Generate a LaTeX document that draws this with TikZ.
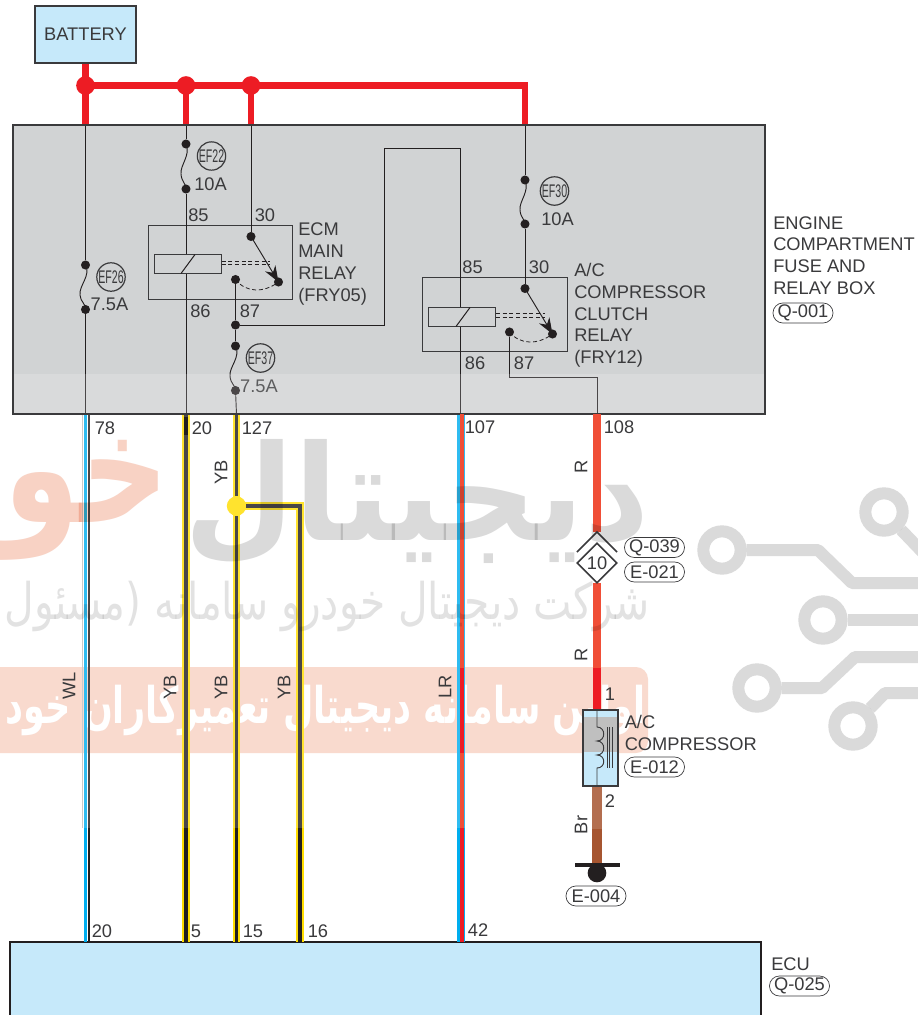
\documentclass[tikz,border=0pt]{standalone}
\usepackage{fontspec}
\setmainfont{Liberation Sans}
\newfontfamily\arfont[Script=Arabic]{DejaVu Sans}
\TeXXeTstate=1
\usetikzlibrary{arrows.meta,shapes.geometric}
\definecolor{ink}{HTML}{3A3A3C}
\definecolor{wireblack}{HTML}{231F20}
\definecolor{panel}{HTML}{D1D3D4}
\definecolor{lightblue}{HTML}{C6E9FA}
\definecolor{batred}{HTML}{ED1C24}
\definecolor{fadered}{HTML}{F04E37}
\definecolor{cyanw}{HTML}{00AEEF}
\definecolor{yelw}{HTML}{FFDD00}
\definecolor{brownw}{HTML}{A65530}
\definecolor{wmgray}{HTML}{DADADA}
\definecolor{wmtext}{HTML}{E2E2E2}
\definecolor{wmorange}{HTML}{F8D2C4}
\tikzset{
  lbl/.style={font=\fontsize{13.7}{16.3}\selectfont,text=ink,inner sep=0pt},
  leftlbl/.style={lbl,anchor=west,align=left},
  vlbl/.style={lbl,rotate=90},
  jdot/.style={circle,fill=wireblack,inner sep=0pt,minimum size=6.8pt},
  bigdot/.style={circle,fill=batred,inner sep=0pt,minimum size=14pt},
  thin wire/.style={draw=wireblack,line width=0.7pt},
  boxrect/.style={draw=ink,line width=1.6pt,inner sep=0pt},
  relaybox/.style={draw=ink,line width=0.75pt,inner sep=0pt},
  coilbox/.style={draw=ink,line width=0.75pt,fill=panel,inner sep=0pt},
  pill/.style={lbl,draw=ink,fill=white,line width=0.5pt,rounded corners=7.4pt,minimum width=45pt,minimum height=15pt},
  badge/.style={lbl,circle,draw=ink,line width=0.9pt,minimum size=21pt},
  redbus/.style={draw=batred,line width=5.2pt},
  tracew/.style={draw=wmgray,line width=9pt,join=bevel},
  ringw/.style={circle,draw=wmgray,line width=9pt,inner sep=0pt,minimum size=28pt},
  relaytip/.style={-{Stealth[length=12pt,width=9pt]}},
}
\newcommand{\efname}[1]{\scalebox{.58}[1]{#1}}
\begin{document}
\begin{tikzpicture}[x=0.75pt,y=-0.75pt]
\clip (0,0) rectangle (918,1015);
\useasboundingbox (0,0) rectangle (918,1015);
\fill[white] (0,0) rectangle (918,1015);

% watermark band, beneath the sheet
\fill[wmorange,rounded corners=9pt] (-30,667) rectangle (648,753);
\node (wm4) [inner sep=0pt,text=white,anchor=east] at (646,710) {\resizebox*{480pt}{38pt}{\arfont\bfseries\beginR اولین سامانه دیجیتال تعمیرکاران خود\endR}};

% battery and bus
\node (battery) [boxrect,fill=lightblue,lbl,draw=ink,line width=1.6pt,minimum width=75.75pt,minimum height=42.75pt] at (85.5,34.5) {BATTERY};
\node (busA) [bigdot] at (85.5,85.5) {};
\node (busB) [bigdot] at (186,85.5) {};
\node (busC) [bigdot] at (251,85.5) {};
\coordinate (busD) at (525,85.5);

% fuse and relay box
\node (fusebox) [fill=panel,inner sep=0pt,minimum width=564pt,minimum height=216.75pt] at (389,269.5) {};
\coordinate (inA) at (85.5,125);
\coordinate (inB) at (186,125);
\coordinate (inC) at (251,125);
\coordinate (inD) at (525,125);
\draw[redbus] (battery.south) -- (inA);
\draw[redbus] (busA.center) -- (busD) -- (inD);
\draw[redbus] (busB.center) -- (inB);
\draw[redbus] (busC.center) -- (inC);

% relay boxes
\node (ecmbox) [relaybox,minimum width=108pt,minimum height=55.5pt] at (220,262) {};
\node (acbox) [relaybox,minimum width=108.75pt,minimum height=55.5pt] at (494.5,314) {};

% nodes on wires
\node (f26a) [jdot] at (85.5,265) {};
\node (f26b) [jdot] at (85.5,309.5) {};
\node (f22a) [jdot] at (186,144) {};
\node (f22b) [jdot] at (186,189) {};
\node (f37a) [jdot] at (235.5,346) {};
\node (f37b) [jdot] at (235.5,390.5) {};
\node (f30a) [jdot] at (525,180) {};
\node (f30b) [jdot] at (525,224) {};
\node (j87) [jdot] at (235.5,325) {};
\node (c30) [jdot] at (251,236.5) {};
\node (c30x) [jdot] at (278.5,282) {};
\node (c87) [jdot] at (235.5,279.5) {};
\node (d30) [jdot] at (525,288.5) {};
\node (d30x) [jdot] at (552.5,334) {};
\node (d87) [jdot] at (509.5,332) {};

% pins at the box bottom
\coordinate (o78) at (85.5,414);
\coordinate (o20) at (186,414);
\coordinate (o127) at (236.5,414);
\coordinate (o107) at (460.5,414);
\coordinate (o108) at (597,414);

\draw[thin wire] (inA) -- (f26a);
\draw[thin wire] (f26b) -- (o78);
\draw[thin wire] (inB) -- (f22a);
\draw[thin wire] (f22b) -- (o20);
\draw[thin wire] (inC) -- (c30);
\draw[thin wire] (inD) -- (f30a);
\draw[thin wire] (f30b) -- (d30);
\draw[thin wire] (c87) -- (j87) -- (f37a);
\draw[thin wire] (f37b) -- (o127);
\draw[thin wire] (j87) -- (384,325) -- (384,148.5) -- (460.5,148.5) -- (o107);
\draw[thin wire] (d87) -- (509.5,377) -- (597,377) -- (o108);

% fuse links
\draw[thin wire] (f26a.center) .. controls (91,276) and (79,285) .. (80,295) .. controls (80.5,302) and (85.5,303) .. (f26b.center);
\draw[thin wire] (f22a.center) .. controls (191,155) and (180,165) .. (181,174) .. controls (181.5,182) and (186,183) .. (f22b.center);
\draw[thin wire] (f37a.center) .. controls (241,357) and (229,367) .. (230,376) .. controls (230.5,384) and (235.5,385) .. (f37b.center);
\draw[thin wire] (f30a.center) .. controls (530,191) and (519,201) .. (520,210) .. controls (520.5,218) and (525,219) .. (f30b.center);

% coils
\node (coilE) [coilbox,minimum width=50.25pt,minimum height=14.25pt] at (187.5,263.5) {};
\node (coilA) [coilbox,minimum width=50.25pt,minimum height=14.25pt] at (462,316.5) {};
\draw[thin wire,line width=.75pt] (coilE.south) ++(-6.5,0) -- ++(14,-19);
\draw[thin wire,line width=.75pt] (coilA.south) ++(-6,0) -- ++(14,-19);
\draw[thin wire,line width=.6pt,densely dashed] (221.5,261) -- (270,261);
\draw[thin wire,line width=.6pt,densely dashed] (221.5,264.5) -- (270,264.5);
\draw[thin wire,line width=.6pt,densely dashed] (496,313.5) -- (545,313.5);
\draw[thin wire,line width=.6pt,densely dashed] (496,317) -- (545,317);

% contacts
\draw[thin wire,relaytip] (c30.center) -- (c30x.center);
\draw[thin wire,relaytip] (d30.center) -- (d30x.center);
\draw[thin wire,line width=.6pt,densely dashed] (c87.center) .. controls (246,293) and (264,293) .. (c30x.center);
\draw[thin wire,line width=.6pt,densely dashed] (d87.center) .. controls (520,345) and (538,345) .. (d30x.center);

% box labels
\node (t85a) [lbl] at (198.5,215) {85};
\node (t30a) [lbl] at (265,215) {30};
\node (t86a) [lbl] at (200.5,311) {86};
\node (t87a) [lbl] at (250,311) {87};
\node (t85b) [lbl] at (472.5,267) {85};
\node (t30b) [lbl] at (539,267) {30};
\node (t86b) [lbl] at (475,363) {86};
\node (t87b) [lbl] at (524,363) {87};
\node (tecm) [leftlbl] at (298,264) {ECM\\MAIN\\RELAY\\(FRY05)};
\node (tac) [leftlbl] at (574,315.5) {A/C\\COMPRESSOR\\CLUTCH\\RELAY\\(FRY12)};
\node (bE26) [badge] at (111,277) {\efname{EF26}};
\node (bE22) [badge] at (211.5,156) {\efname{EF22}};
\node (bE37) [badge] at (260.5,358) {\efname{EF37}};
\node (bE30) [badge] at (554.5,191) {\efname{EF30}};
\node (a26) [lbl] at (109.5,304) {7.5A};
\node (a22) [lbl] at (210.5,184) {10A};
\node (a37) [lbl] at (259,386) {7.5A};
\node (a30) [lbl] at (557.5,219) {10A};
\node (tengine) [leftlbl] at (773,255.5) {ENGINE\\COMPARTMENT\\FUSE AND\\RELAY BOX};
\node (q001) [pill] at (803,313) {Q-001};

% ECU
\node (ecu) [fill=lightblue,draw=wireblack,line width=1.2pt,inner sep=0pt,minimum width=563.25pt,minimum height=60pt] at (385.5,982) {};

% harness wires
\coordinate (e20) at (85.5,942);
\coordinate (e5) at (186,942);
\coordinate (e15) at (236.5,942);
\coordinate (e16) at (300,942);
\coordinate (e42) at (461,942);
\node (jyb) [circle,fill=yelw,inner sep=0pt,minimum size=14.5pt] at (236.5,506) {};
\draw[draw=yelw,line width=5.8pt] (o20) -- (e5);
\draw[draw=wireblack,line width=2.8pt] (o20) -- (e5);
\draw[draw=yelw,line width=5.8pt] (o127) -- (e15);
\draw[draw=yelw,line width=6.4pt] (jyb.center) -- (300,506) -- (e16);
\draw[draw=wireblack,line width=2.8pt] (o127) -- (jyb);
\draw[draw=wireblack,line width=2.8pt] (jyb) -- (e15);
\draw[draw=wireblack,line width=2.8pt] (jyb) -- (300,506) -- (e16);
\draw[draw=cyanw,line width=2.8pt] (o78) -- (e20);
\draw[draw=wireblack,line width=.8pt] (89,414) -- (89,942);
\draw[draw=gray!50,line width=.8pt] (82.5,414) -- (82.5,828);
\draw[draw=cyanw,line width=6pt] (o107) ++(.5,0) -- (e42);
\draw[draw=batred,line width=3pt] (461.5,828) -- (461.5,942);

% fade of the upper sheet, from y=374 to y=828
\fill[white,opacity=.18] (0,374) rectangle (918,828);

% re-lay box outlines and colours that are not faded
\node (fuseframe) [boxrect,minimum width=564pt,minimum height=216.75pt] at (389,269.5) {};
\draw[draw=fadered,line width=3pt] (462,414) -- (462,668);
\draw[draw=batred,line width=3pt] (462,668) -- (462,753);
\draw[draw=fadered,line width=3pt] (462,753) -- (462,828);
\coordinate (r1) at (597,532);
\coordinate (r2) at (597,583);
\coordinate (r3) at (597,668);
\coordinate (cmp1) at (597,710);
\draw[draw=fadered,line width=6pt] (o108) -- (r1);
\draw[draw=fadered,line width=6pt] (r2) -- (r3);
\draw[draw=batred,line width=6pt] (r3) -- (cmp1);
\draw[draw=wireblack,line width=2.8pt] (186,417) -- (186,435);

% connector diamond
\node (dia) [diamond,draw=ink,fill=white,line width=1.2pt,inner sep=0pt,minimum width=30pt,minimum height=30pt,lbl] at (597,563) {10};
\coordinate (chev) at (597,532);
\draw[draw=ink,line width=1.2pt] (577,552) -- (chev) -- (617,552);
\node (q039) [pill] at (654.5,547.5) {Q-039};
\node (e021) [pill] at (654.5,572) {E-021};

% compressor
\node (comp) [fill=lightblue,draw=ink,line width=1.5pt,inner sep=0pt,minimum width=26pt,minimum height=57pt] at (600.5,748) {};
\fill[gray!50] (584,717) rectangle (617,752);
\draw[draw=ink,line width=.7pt] (comp.north -| cmp1) -- (597,727) .. controls (606,727) and (606,741) .. (597,741) .. controls (606,741) and (606,755) .. (597,755) .. controls (606,755) and (606,768) .. (597,768) -- (comp.south -| cmp1);
\draw[draw=ink,line width=.45pt] (607,727) -- (607,768);
\draw[draw=ink,line width=.45pt] (609.5,727) -- (609.5,768);
\draw[draw=ink,line width=.45pt] (612,727) -- (612,768);
\node (tcomp) [leftlbl] at (624.5,733) {A/C\\COMPRESSOR};
\node (e012) [pill] at (654.5,767) {E-012};

% ground
\node (gnd) [circle,fill=wireblack,inner sep=0pt,minimum size=14pt] at (597,873) {};
\coordinate (gb1) at (575,865);
\coordinate (gb2) at (620,865);
\coordinate (wbr) at (597,829);
\draw[draw=brownw!85!white,line width=6.8pt] (comp.south -| wbr) -- (wbr);
\draw[draw=brownw,line width=6.8pt] (wbr) -- (597,865);
\draw[draw=wireblack,line width=2.4pt] (gb1) -- (gb2);
\node (e004) [pill] at (596,896) {E-004};

% wire labels
\node (n78) [lbl] at (105,428) {78};
\node (n20) [lbl] at (202,428) {20};
\node (n127) [lbl] at (257,428) {127};
\node (n107) [lbl] at (480,427) {107};
\node (n108) [lbl] at (619,427) {108};
\node (m20) [lbl] at (102,931) {20};
\node (m5) [lbl] at (196,931) {5};
\node (m15) [lbl] at (253,931) {15};
\node (m16) [lbl] at (318,931) {16};
\node (m42) [lbl] at (478,930) {42};
\node (yb0) [vlbl] at (221,472) {YB};
\node (wl) [vlbl] at (69,686) {WL};
\node (yb1) [vlbl] at (170,687) {YB};
\node (yb2) [vlbl] at (221,687) {YB};
\node (yb3) [vlbl] at (284,687) {YB};
\node (lr) [vlbl] at (445,687) {LR};
\node (r1t) [vlbl] at (581,467) {R};
\node (r2t) [vlbl] at (581,655) {R};
\node (brt) [vlbl] at (581,825) {Br};
\node (p1) [lbl] at (610,694) {1};
\node (p2) [lbl] at (610,801) {2};
\node (tecu) [lbl,anchor=west] at (771,964) {ECU};
\node (q025) [pill] at (799.5,986) {Q-025};

% watermark, laid over the sheet
\begin{scope}[blend mode=multiply]
\node (wm1) [inner sep=0pt,text=wmgray,anchor=east] at (650,502) {\resizebox*{349pt}{94pt}{\arfont\bfseries\beginR دیجیتال\endR}};
\node (wm2) [inner sep=0pt,text=wmorange,anchor=east] at (170,500) {\resizebox*{125pt}{90pt}{\arfont\bfseries\beginR خو\endR}};
\node (wm3) [inner sep=0pt,text=wmtext,anchor=east] at (650,606) {\resizebox*{484pt}{38pt}{\arfont\beginR شرکت دیجیتال خودرو سامانه (مسئول\endR}};
\node (rg1) [ringw] at (722,550) {};
\node (rg2) [ringw] at (823,620) {};
\node (rg3) [ringw] at (757,688) {};
\node (rg4) [ringw] at (853,726) {};
\node (rg5) [ringw] at (884,512) {};
\draw[tracew] (rg1) -- (818,550) -- (852,583) -- (930,583);
\draw[tracew] (rg2) -- (930,620);
\draw[tracew] (rg3) -- (822,688) -- (855,657) -- (930,657);
\draw[tracew] (rg4) -- (885,693) -- (930,693);
\draw[tracew] (rg5) -- (930,560);
\end{scope}
\end{tikzpicture}
\end{document}
